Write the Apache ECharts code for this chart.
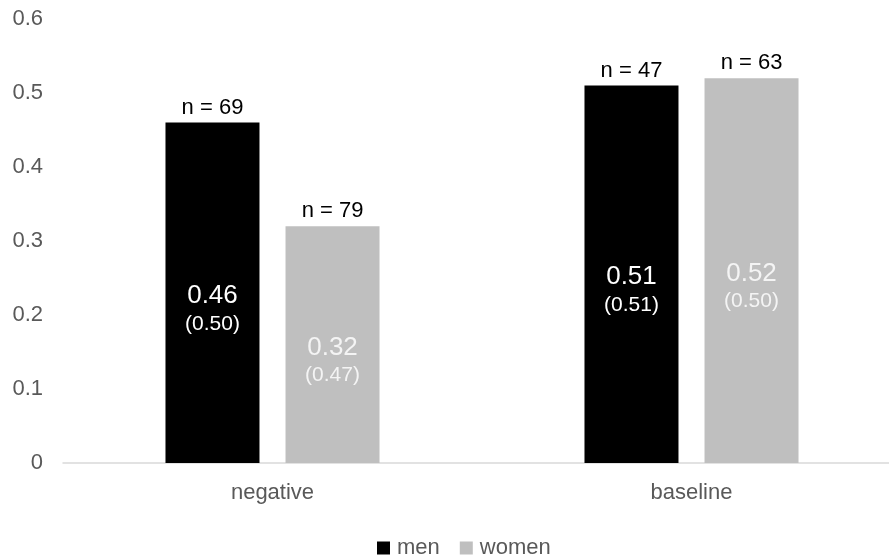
<!DOCTYPE html>
<html><head><meta charset="utf-8">
<script src="https://cdn.jsdelivr.net/npm/echarts@6/dist/echarts.min.js"></script>
<style>html,body{margin:0;padding:0;background:#fff}#c{width:889px;height:558px}</style>
</head><body><div id="c"></div>
<script>
const categories = ['negative', 'baseline'];
const seriesNames = ['men', 'women'];
const menValues = [0.46, 0.51];
const womenValues = [0.32, 0.52];
const menSD = ['0.50', '0.51'];
const womenSD = ['0.47', '0.50'];
const menN = [69, 47];
const womenN = [79, 63];
const yTicks = [0, 0.1, 0.2, 0.3, 0.4, 0.5, 0.6];

const FONT = '"Liberation Sans", Arial, sans-serif';
const BAR_W = 94, GAP = '27.7%';

function valueLabel(color, sd) {
  return {
    show: true, position: 'inside', offset: [0, 16],
    formatter: p => '{a|' + p.value.toFixed(2) + '}\n{b|(' + sd[p.dataIndex] + ')}',
    rich: {
      a: {fontSize: 26, color: color, fontFamily: FONT, lineHeight: 30, align: 'center'},
      b: {fontSize: 21, color: color, fontFamily: FONT, lineHeight: 26, align: 'center'}
    }
  };
}
function nLabel(ns) {
  return {
    show: true, position: 'top', distance: 4,
    formatter: p => 'n = ' + ns[p.dataIndex],
    fontSize: 22, color: '#000', fontFamily: FONT
  };
}

const chart = echarts.init(document.getElementById('c'));
chart.setOption({
  animation: false,
  textStyle: {fontFamily: FONT},
  grid: {left: 63, top: 19, width: 838, height: 444, containLabel: false, outerBoundsMode: 'none'},
  legend: {
    data: seriesNames, left: 372, top: 532, itemWidth: 13, itemHeight: 13, itemGap: 20,
    icon: 'rect',
    textStyle: {fontSize: 22, color: '#595959', fontFamily: FONT, padding: [0, 0, 0, 2]}
  },
  xAxis: [{
    type: 'category', data: categories,
    axisLine: {lineStyle: {color: '#d9d9d9', width: 1.5}},
    axisTick: {show: false},
    axisLabel: {fontSize: 22, color: '#595959', margin: 19, fontFamily: FONT}
  }, {
    type: 'category', data: categories, show: false
  }],
  yAxis: {
    type: 'value', min: yTicks[0], max: yTicks[yTicks.length - 1], interval: 0.1,
    splitLine: {show: false}, axisLine: {show: false}, axisTick: {show: false},
    axisLabel: {fontSize: 22, color: '#595959', margin: 20, fontFamily: FONT}
  },
  series: [
    {name: 'men', type: 'bar', data: menValues, barWidth: BAR_W, barGap: GAP,
     itemStyle: {color: '#000000'}, label: valueLabel('#ffffff', menSD)},
    {name: 'women', type: 'bar', data: womenValues, barWidth: BAR_W, barGap: GAP,
     itemStyle: {color: '#bfbfbf'}, label: valueLabel('#f4f4f4', womenSD)},
    {name: 'men n', type: 'bar', xAxisIndex: 1, data: menValues, barWidth: BAR_W, barGap: GAP,
     itemStyle: {color: 'rgba(0,0,0,0)'}, label: nLabel(menN), silent: true},
    {name: 'women n', type: 'bar', xAxisIndex: 1, data: womenValues, barWidth: BAR_W, barGap: GAP,
     itemStyle: {color: 'rgba(0,0,0,0)'}, label: nLabel(womenN), silent: true}
  ]
});
</script></body></html>
